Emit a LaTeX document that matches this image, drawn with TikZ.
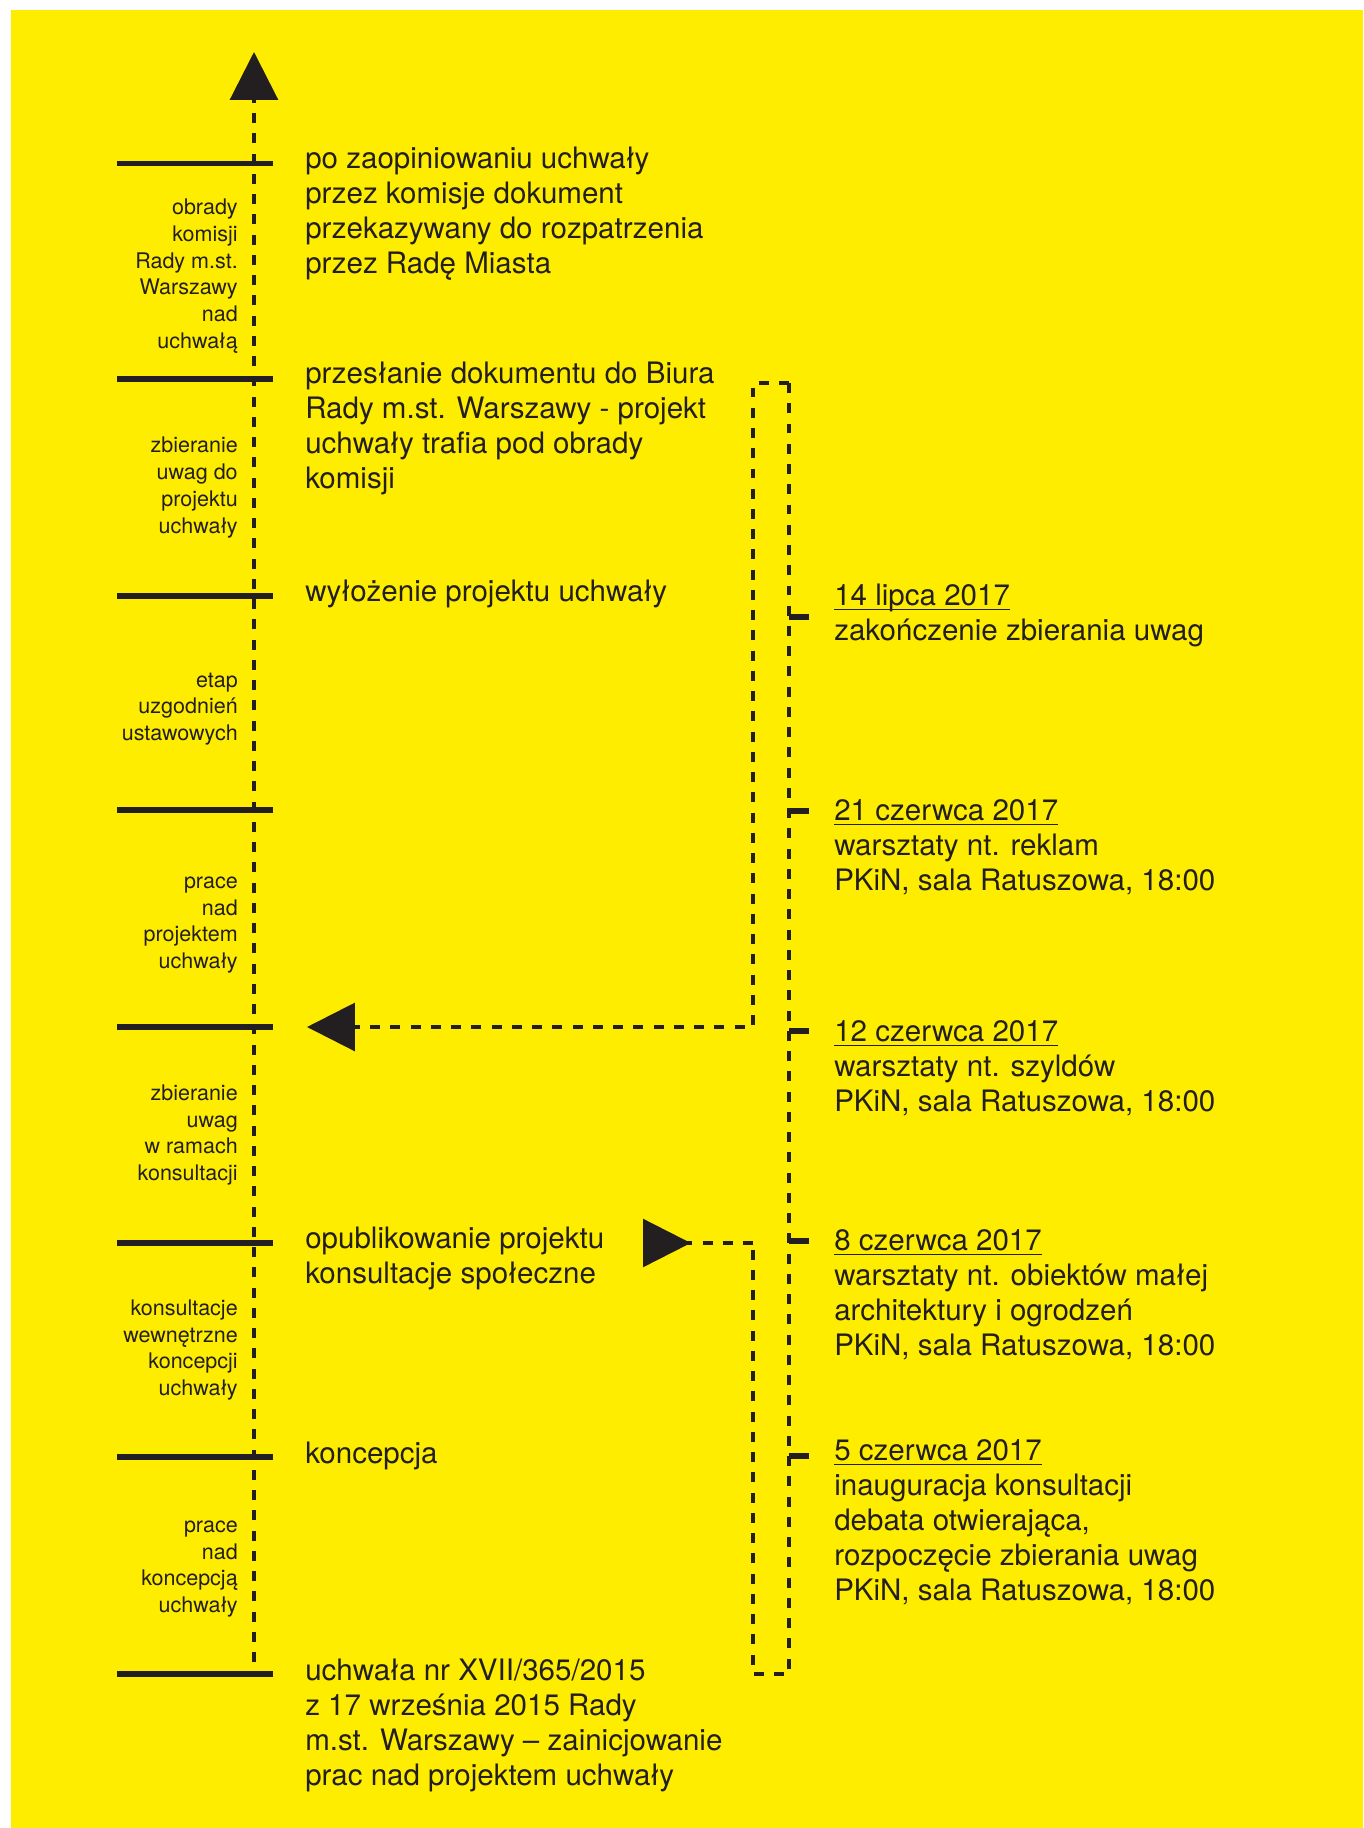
\documentclass[tikz,border=0pt]{standalone}
\usepackage{fontspec}
\setmainfont{TeX Gyre Heros}
\usepackage{tikz}
\usetikzlibrary{positioning,
        arrows.meta}
\usepackage{xcolor}
\definecolor{plakat}{RGB}{255,237,0}
\definecolor{czern}{RGB}{35,31,32}
\newcommand{\datum}[1]{\setbox0=\hbox{#1}\rlap{\rule[-3.6pt]{\wd0}{1pt}}\box0}

\begin{document}
\begin{tikzpicture}[x=0.025cm, y=-0.025cm,
        every node/.style={inner sep=0pt, text=czern},
        opis/.style={anchor=north west, yshift=17.43pt, align=left, font=\fontsize{21}{24.9}\selectfont},
        etap/.style={anchor=east, align=right, font=\fontsize{15.3}{19}\selectfont},
        bar/.style={draw=czern, line width=3.6pt},
        dashline/.style={draw=czern, line width=2.2pt, dash pattern=on 7pt off 7.4pt},
        arr/.style={-{Triangle[length=34pt, width=34pt]}}]
            \useasboundingbox (0,0) rectangle (1363,1828);
            \fill [plakat] (11,10) rectangle (1363,1828);

            % os czasu
            \coordinate (axisB) at (254,1662);
            \coordinate (axisT) at (254,52);
            \draw [dashline, arr] (axisB) -- (axisT);

            \draw [bar] (117,163.5) -- (273,163.5);
            \draw [bar] (117,379) -- (273,379);
            \draw [bar] (117,596) -- (273,596);
            \draw [bar] (117,810) -- (273,810);
            \draw [bar] (117,1027) -- (273,1027);
            \draw [bar] (117,1243) -- (273,1243);
            \draw [bar] (117,1457) -- (273,1457);
            \draw [bar] (117,1674) -- (273,1674);

            \node [etap] (obrady) at (238,276) {obrady\\komisji\\Rady m.st.\\Warszawy\\nad\\uchwałą};
            \node [etap] (uwagi) at (238,487.5) {zbieranie\\uwag do\\projektu\\uchwały};
            \node [etap] (uzgodnienia) at (238,709) {etap\\uzgodnień\\ustawowych};
            \node [etap] (prace) at (238,925) {prace\\nad\\projektem\\uchwały};
            \node [etap] (zbieranie) at (238,1135) {zbieranie\\uwag\\w ramach\\konsultacji};
            \node [etap] (wewn) at (238,1350) {konsultacje\\wewnętrzne\\koncepcji\\uchwały};
            \node [etap] (koncprace) at (238,1569) {prace\\nad\\koncepcją\\uchwały};

            \node [opis] (zaopin) at (305,168) {\strut po zaopiniowaniu uchwały\\przez komisje dokument\\przekazywany do rozpatrzenia\\przez Radę Miasta};
            \node [opis] (przeslanie) at (305,383) {\strut przesłanie dokumentu do Biura\\Rady m.st. Warszawy - projekt\\uchwały trafia pod obrady\\komisji};
            \node [opis] (wylozenie) at (305,601) {\strut wyłożenie projektu uchwały};
            \node [opis] (publik) at (305,1248) {\strut opublikowanie projektu\\konsultacje społeczne};
            \node [opis] (koncepcja) at (305,1463) {\strut koncepcja};
            \node [opis] (uchwala) at (305,1680) {\strut uchwała nr XVII/365/2015\\z 17 września 2015 Rady\\m.st. Warszawy – zainicjowanie\\prac nad projektem uchwały};

            % konsultacje
            \coordinate (brTL) at (753,383);
            \coordinate (brTR) at (789,383);
            \coordinate (brBL) at (753,1674);
            \coordinate (brBR) at (789,1674);
            \coordinate (back) at (753,1027);
            \coordinate (fwd) at (753,1243);
            \coordinate (backTip) at (307,1027);
            \coordinate (fwdEnd) at (643,1243);

            \draw [dashline, arr] (brTR) -- (brTL) -- (back) -- (backTip);
            \draw [dashline] (brTR) -- (brBR) -- (brBL) -- (fwd);
            \draw [dashline, -{Triangle[reversed, length=34pt, width=34pt]}] (fwd) -- (fwdEnd);

            \draw [bar] (789,617) -- (809,617);
            \draw [bar] (789,811) -- (809,811);
            \draw [bar] (789,1031) -- (809,1031);
            \draw [bar] (789,1241) -- (809,1241);
            \draw [bar] (789,1456) -- (809,1456);

            \node [opis] (lipiec14) at (834,605) {\strut\datum{14 lipca 2017}\\zakończenie zbierania uwag};
            \node [opis] (czerwiec21) at (834,820) {\strut\datum{21 czerwca 2017}\\warsztaty nt. reklam\\PKiN, sala Ratuszowa, 18:00};
            \node [opis] (czerwiec12) at (834,1041) {\strut\datum{12 czerwca 2017}\\warsztaty nt. szyldów\\PKiN, sala Ratuszowa, 18:00};
            \node [opis] (czerwiec8) at (834,1250) {\strut\datum{8 czerwca 2017}\\warsztaty nt. obiektów małej\\architektury i ogrodzeń\\PKiN, sala Ratuszowa, 18:00};
            \node [opis] (czerwiec5) at (834,1460) {\strut\datum{5 czerwca 2017}\\inauguracja konsultacji\\debata otwierająca,\\rozpoczęcie zbierania uwag\\PKiN, sala Ratuszowa, 18:00};
        \end{tikzpicture}
\end{document}
